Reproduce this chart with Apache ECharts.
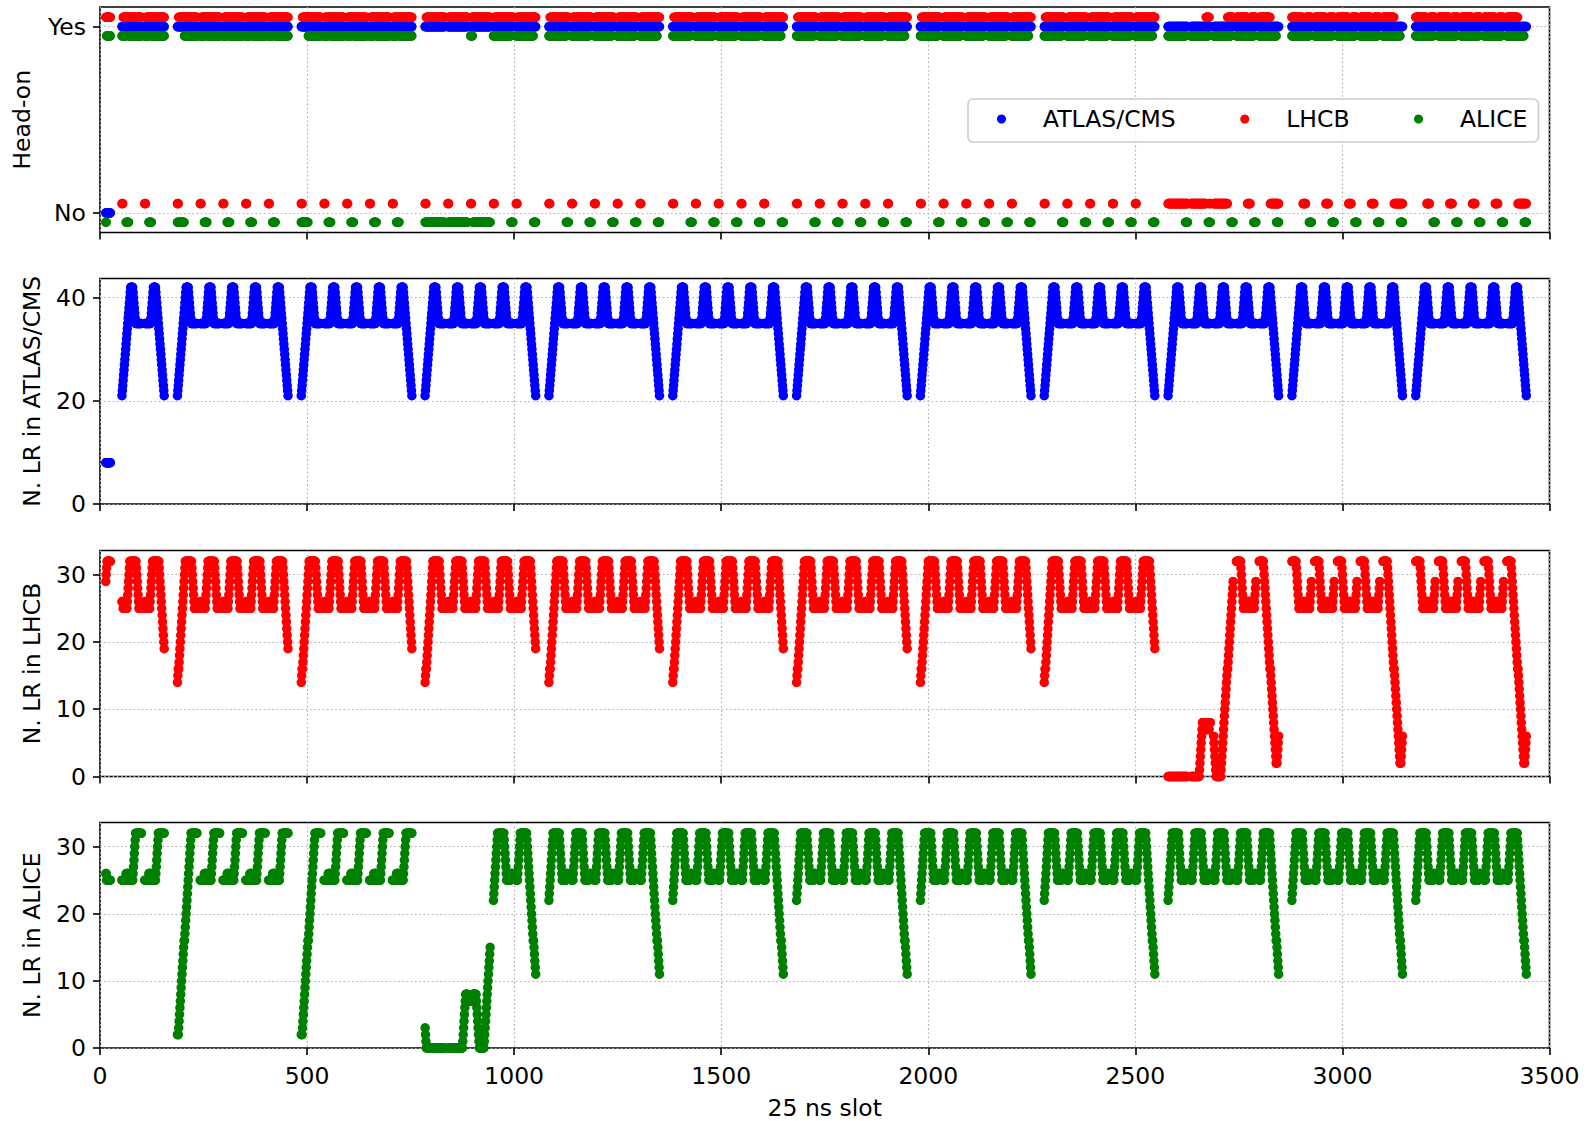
<!DOCTYPE html>
<html><head><meta charset="utf-8">
<script src="https://cdn.jsdelivr.net/npm/echarts@6/dist/echarts.min.js"></script>
<style>html,body{margin:0;padding:0;background:#fff}#c{width:1591px;height:1121px}</style>
</head><body><div id="c"></div>
<script>
// ---------------- DATA ----------------
// Beam-1 filled slots: start slot of each 48-bunch train (1 injection of 2 trains + 11 of 5 trains)
const trainStarts = [
  53, 108,
  187, 242, 297, 352, 407,
  486, 541, 596, 651, 706,
  785, 840, 895, 950, 1005,
  1084, 1139, 1194, 1249, 1304,
  1383, 1438, 1493, 1548, 1603,
  1682, 1737, 1792, 1847, 1902,
  1981, 2036, 2091, 2146, 2201,
  2280, 2335, 2390, 2445, 2500,
  2579, 2634, 2689, 2744, 2799,
  2878, 2933, 2988, 3043, 3098,
  3177, 3232, 3287, 3342, 3397
];
// the 12 isolated bunches at the start of the ring
const pilotSlots = [14, 15, 16, 17, 18, 19, 20, 21, 22, 23, 24, 25];

// Which shape each train shows in each panel (same order as trainStarts)
const atlasTrainShape = [
  'F','L',
  'F','M','M','M','L', 'F','M','M','M','L', 'F','M','M','M','L', 'F','M','M','M','L',
  'F','M','M','M','L', 'F','M','M','M','L', 'F','M','M','M','L', 'F','M','M','M','L',
  'F','M','M','M','L', 'F','M','M','M','L', 'F','M','M','M','L'
];
const lhcbTrainShape = [
  'M','L',
  'F','M','M','M','L', 'F','M','M','M','L', 'F','M','M','M','L', 'F','M','M','M','L',
  'F','M','M','M','L', 'F','M','M','M','L', 'F','M','M','M','L', 'F','M','M','M','L',
  'Z','S2','S3','Ms','Ls',
  'Ms','Ms','Ms','Ms','Ls',
  'Ms','Ms','Ms','Ms','Ls'
];
const aliceTrainShape = [
  'Ms','Ms',
  'Fs','Ms','Ms','Ms','Ms',
  'Fs','Ms','Ms','Ms','Ms',
  'S1','S2','S3','F','L',
  'F','M','M','M','L', 'F','M','M','M','L', 'F','M','M','M','L', 'F','M','M','M','L',
  'F','M','M','M','L', 'F','M','M','M','L', 'F','M','M','M','L', 'F','M','M','M','L'
];

// ---- N. LR in ATLAS/CMS, per bunch of a train ----
const atlasLR_F = [21,22,23,24,25,26,27,28,29,30,31,32,33,34,35,36,37,38,39,40,41,42,
  42,42,42,42,42, 41,40,39,38,37,36,35, 35,35,35,35,35,35,35, 35,35,35,35,35,35,35];
const atlasLR_M = [35,35,35,35,35, 35,35,35,35,35, 35,35,35,35,35, 36,37,38,39,40,41,
  42,42,42,42,42,42, 41,40,39,38,37,36,35, 35,35,35,35,35,35,35, 35,35,35,35,35,35,35];
const atlasLR_L = [35,35,35,35,35, 35,35,35,35,35, 35,35,35,35,35, 36,37,38,39,40,41,
  42,42,42,42,42,42, 41,40,39,38,37,36,35,34,33,32,31,30,29,28,27,26,25,24,23,22,21];
const atlasLR_pilot = [8,8,8,8,8,8,8,8,8,8,8,8];

// ---- N. LR in LHCB ----
const lhcbLR_F = [14,15,16, 16,17,18,19,20,21,22,23,24,25,26,27,28,29,30,31,32,
  32,32,32,32,32, 32,32,32,32,32, 32,32,32,32,32, 31,30,29,28,27,26,25, 25,25,25,25,25,25];
const lhcbLR_M = [26,26,26, 25,25,25,25,25, 25,25,25,25,25, 26,27,28,29,30,31,32,
  32,32,32,32,32, 32,32,32,32,32, 32,32,32,32,32, 31,30,29,28,27,26,25, 25,25,25,25,25,25];
const lhcbLR_L = [26,26,26, 25,25,25,25,25, 25,25,25,25,25, 26,27,28,29,30,31,32,
  32,32,32,32,32, 32,32,32,32,32, 32,32,32,32,32, 31,30,29,28,27,26,25,24,23,22,21,20,19];
const lhcbLR_Ms = [32,32,32,32,32, 32,32,32,32,32, 32, 31,30,29,28,27,26,25,
  25,25,25,25,25, 25,25,25,25, 26,26,26,26,26,26,26, 25,25,25,25,25, 25,25,25,25,25, 26,27,28,29];
const lhcbLR_Ls = [32,32,32,32,32, 32,32,32,32,32, 32, 31,30,29,28,27,26,25,24,23,22,21,20,19,18,17,16,
  16, 15,14,13,12,11,10,9,8,7,6,5,4,3,2, 2, 2,3,4,5,6];
const lhcbLR_Z = [0,0,0,0,0,0,0,0,0,0, 0,0,0,0,0,0,0,0,0,0, 0,0,0,0,0,0,0,0,0,0, 0,0,0,0,0,0,0,0,0,0, 0,0,0,0,0,0,0,0];
const lhcbLR_S2 = [0,0,0,0,0,0,0,0,0,0, 0,0,0,0,0,0,0,0,0,0, 0, 1,2,3,4,5,6,7,
  8,8,8,8,8,8,8,8,8, 7,7,7,7,7,7,7,7, 8,8,8];
const lhcbLR_S3 = [6,5,4,3,2,1, 0,0,0,0,0,0,0,0,0,0,0,0, 1,2,3,4,5,6,7,8,9,10,11,12,13,14,15,16,
  16,17,18,19,20,21,22,23,24,25,26,27,28,29];
const lhcbLR_pilot = [29,30,31,32,32,32,32,32,32,32,32,32];

// ---- N. LR in ALICE ----
const aliceLR_F = [22,23,24,25,26,27,28,29,30,31,32, 32,32,32,32,32, 32,32,32,32,32, 32,32,32,32,32,
  31,30,29,28,27,26,25, 25,25,25,25,25, 25,25,25,25, 26,26,26,26,26,26];
const aliceLR_M = [25,25,25,25, 26,27,28,29,30,31,32, 32,32,32,32,32, 32,32,32,32,32, 32,32,32,32,32,
  31,30,29,28,27,26,25, 25,25,25,25,25, 25,25,25,25, 26,26,26,26,26,26];
const aliceLR_L = [25,25,25,25, 26,27,28,29,30,31,32, 32,32,32,32,32, 32,32,32,32,32, 32,32,32,32,32,
  31,30,29,28,27,26,25,24,23,22,21,20,19,18,17,16, 16,15,14,13,12,11];
const aliceLR_Fs = [2,2,2,3,4,5,6,7,8,9,10,11,12,13,14,15,16, 16, 17,18,19,20,21,22,23,24,25,26,27,28,29,30,31,32,
  32,32,32,32,32,32,32, 32,32,32,32,32,32,32];
const aliceLR_Ms = [25,25,25,25,25, 25,25,25,25,25, 26,26,26,26,26,26,26, 25,25,25,25,25, 25,25,25,25,25,
  26,27,28,29,30,31,32, 32,32,32,32,32,32,32, 32,32,32,32,32,32,32];
const aliceLR_S1 = [3,2,1, 0,0,0,0,0,0,0,0,0,0, 0,0,0,0,0,0,0,0,0,0, 0,0,0,0,0,0,0,0,0,0,
  0,0,0,0,0,0,0,0,0,0, 0,0,0,0,0];
const aliceLR_S2 = [0,0,0,0,0,0,0,0,0,0, 0,0,0,0,0,0,0,0,0,0, 0,0,0,0,0,0,0,0,0,0, 0,0,0,0,0,0,
  1,2,3,4,5,6,7,8, 8,8,8,8];
const aliceLR_S3 = [7,7,7,7,7, 8,8,8,8,8,8,8,8,8, 7,6,5,4,3,2,1, 0,0,0,0,0,0,0,0,0,0,0,0,
  1,2,3,4,5,6,7,8,9,10,11,12,13,14,15];
const aliceLR_pilot = [26,26,25,25,25,25,25,25,25,25,25,25];

// ---- Head-on collision (1 = Yes, 0 = No), per bunch of a train ----
const atlasHO_train = [1,1,1,1,1,1,1,1,1,1, 1,1,1,1,1,1,1,1,1,1, 1,1,1,1,1,1,1,1,1,1, 1,1,1,1,1,1,1,1,1,1, 1,1,1,1,1,1,1,1];
const atlasHO_pilot = [0,0,0,0,0,0,0,0,0,0,0,0];

const lhcbHO_FML = [0,0,0, 1,1,1,1,1,1,1,1,1,1, 1,1,1,1,1,1,1,1,1,1, 1,1,1,1,1,1,1,1,1,1, 1,1,1,1,1,1,1,1,1,1, 1,1,1,1,1];
const lhcbHO_Ms = [1,1,1,1,1,1,1,1,1,1, 1,1,1,1,1,1,1,1,1,1, 1,1,1,1,1,1,1, 0,0,0,0,0,0,0,
  1,1,1,1,1,1,1, 1,1,1,1,1,1,1];
const lhcbHO_Ls = [1,1,1,1,1,1,1,1,1,1, 1,1,1,1,1,1,1,1,1,1, 1,1,1,1,1,1,1,
  0,0,0,0,0,0,0,0,0,0, 0,0,0,0,0,0,0,0,0,0, 0];
const lhcbHO_Z = [0,0,0,0,0,0,0,0,0,0, 0,0,0,0,0,0,0,0,0,0, 0,0,0,0,0,0,0,0,0,0, 0,0,0,0,0,0,0,0,0,0, 0,0,0,0,0,0,0,0];
const lhcbHO_S2 = [0,0,0,0,0,0,0,0,0,0, 0,0,0,0,0,0,0,0,0,0, 0,0,0,0,0,0,0,0,0,0, 0,0,0,0,0,0,0,
  1,1,1,1,1,1,1,1, 0,0,0];
const lhcbHO_S3 = [0,0,0,0,0,0,0,0,0,0, 0,0,0,0,0,0,0,0,0,0, 0,0,0,0,0,0,0,0,0,0, 0,0,0,0,
  1,1,1,1,1,1,1, 1,1,1,1,1,1,1];
const lhcbHO_pilot = [1,1,1,1,1,1,1,1,1,1,1,1];

const aliceHO_FML = [1,1,1,1,1,1,1,1,1,1, 1,1,1,1,1,1,1,1,1,1, 1,1,1,1,1,1,1,1,1,1, 1,1,1,1,1,1,1,1,1,1, 1,1, 0,0,0,0,0,0];
const aliceHO_Fs = [0,0,0,0,0,0,0,0,0,0, 0,0,0,0,0,0,0, 1,1,1,1,1,1,1,1,1,1, 1,1,1,1,1,1,1,1,1,1,
  1,1,1,1,1,1,1,1,1,1, 1];
const aliceHO_Ms = [1,1,1,1,1,1,1,1,1,1, 0,0,0,0,0,0,0, 1,1,1,1,1,1,1,1,1,1, 1,1,1,1,1,1,1,1,1,1,
  1,1,1,1,1,1,1,1,1,1, 1];
const aliceHO_S12 = [0,0,0,0,0,0,0,0,0,0, 0,0,0,0,0,0,0,0,0,0, 0,0,0,0,0,0,0,0,0,0, 0,0,0,0,0,0,0,0,0,0, 0,0,0,0,0,0,0,0];
const aliceHO_S3 = [1,1,1,1,1, 0,0,0,0,0,0,0,0,0,0, 0,0,0,0,0,0,0,0,0,0, 0,0,0,0,0,0,0,0,0,0,
  0,0,0,0,0,0,0,0,0,0, 0,0,0];
const aliceHO_pilot = [0,0,1,1,1,1,1,1,1,1,1,1];

// tick values shown on the axes
const xTickStep = 500;
const headOnTicks = [0, 1];
const headOnTickLabels = ['No', 'Yes'];
const atlasTicks = [0, 20, 40];
const lhcbTicks = [0, 10, 20, 30];
const aliceTicks = [0, 10, 20, 30];

// ---------------- BUILD ----------------
const atlasLR = {F: atlasLR_F, M: atlasLR_M, L: atlasLR_L};
const lhcbLR = {F: lhcbLR_F, M: lhcbLR_M, L: lhcbLR_L, Ms: lhcbLR_Ms, Ls: lhcbLR_Ls, Z: lhcbLR_Z, S2: lhcbLR_S2, S3: lhcbLR_S3};
const aliceLR = {F: aliceLR_F, M: aliceLR_M, L: aliceLR_L, Fs: aliceLR_Fs, Ms: aliceLR_Ms, S1: aliceLR_S1, S2: aliceLR_S2, S3: aliceLR_S3};
const atlasHO = {F: atlasHO_train, M: atlasHO_train, L: atlasHO_train};
const lhcbHO = {F: lhcbHO_FML, M: lhcbHO_FML, L: lhcbHO_FML, Ms: lhcbHO_Ms, Ls: lhcbHO_Ls, Z: lhcbHO_Z, S2: lhcbHO_S2, S3: lhcbHO_S3};
const aliceHO = {F: aliceHO_FML, M: aliceHO_FML, L: aliceHO_FML, Fs: aliceHO_Fs, Ms: aliceHO_Ms, S1: aliceHO_S12, S2: aliceHO_S12, S3: aliceHO_S3};

// sanity check of the typed tables
[['atlasLR', atlasLR], ['lhcbLR', lhcbLR], ['aliceLR', aliceLR], ['atlasHO', atlasHO], ['lhcbHO', lhcbHO], ['aliceHO', aliceHO]].forEach(function (e) {
  Object.keys(e[1]).forEach(function (k) { if (e[1][k].length !== 48) throw new Error('bad length ' + e[0] + '.' + k + ' ' + e[1][k].length); });
});
[atlasLR_pilot, lhcbLR_pilot, aliceLR_pilot, atlasHO_pilot, lhcbHO_pilot, aliceHO_pilot].forEach(function (a, i) {
  if (a.length !== pilotSlots.length) throw new Error('bad pilot ' + i);
});
[atlasTrainShape, lhcbTrainShape, aliceTrainShape].forEach(function (a, i) {
  if (a.length !== trainStarts.length) throw new Error('bad shape list ' + i + ' ' + a.length);
});

function points(shapeList, table, pilotValues, shift) {
  const pts = pilotSlots.map(function (s, i) { return [s, pilotValues[i] + shift]; });
  trainStarts.forEach(function (start, t) {
    table[shapeList[t]].forEach(function (v, p) { pts.push([start + p, v + shift]); });
  });
  return pts;
}

const FONT = 'DejaVu Sans';
const FS = 23.5;
const BLUE = '#0000ff', RED = '#ff0000', GREEN = '#008000';
const ROW_OFFSET = 0.05; // vertical offset used in the head-on panel

const tops = [7, 278.5, 550.5, 822.5];
const heights = [225.5, 225.5, 226, 225.5];
const grids = tops.map(function (t, i) {
  return { left: 100, top: t, width: 1449.5, height: heights[i], show: true, borderColor: '#000', borderWidth: 1.6, backgroundColor: 'transparent', containLabel: false };
});

const gridLine = { show: true, lineStyle: { color: '#b0b0b0', width: 1.2, type: [1.6, 2.6] } };
const tick = { show: true, inside: false, length: 7, lineStyle: { color: '#000', width: 1.6 } };

const xAxes = [0, 1, 2, 3].map(function (i) {
  return {
    type: 'value', gridIndex: i, min: 0, max: 3500, interval: xTickStep,
    axisLine: { show: false, onZero: false }, axisTick: tick,
    axisLabel: { show: i === 3, fontSize: FS, color: '#000', fontFamily: FONT, margin: 16,
      formatter: function (v) { return String(v); } },
    splitLine: gridLine,
    name: i === 3 ? '25 ns slot' : '', nameLocation: 'middle', nameGap: 48,
    nameTextStyle: { fontSize: FS, color: '#000', fontFamily: FONT }
  };
});

const yDefs = [
  { min: -0.105, max: 1.105, ticks: headOnTicks, name: 'Head-on', gap: 66,
    fmt: function (v) { const k = headOnTicks.indexOf(v); return k >= 0 ? headOnTickLabels[k] : ''; } },
  { min: 0, max: 43.7, ticks: atlasTicks, name: 'N. LR in ATLAS/CMS', gap: 56, fmt: function (v) { return String(v); } },
  { min: 0, max: 33.6, ticks: lhcbTicks, name: 'N. LR in LHCB', gap: 56, fmt: function (v) { return String(v); } },
  { min: 0, max: 33.6, ticks: aliceTicks, name: 'N. LR in ALICE', gap: 56, fmt: function (v) { return String(v); } }
];
const yAxes = yDefs.map(function (d, i) {
  return {
    type: 'value', gridIndex: i, min: d.min, max: d.max,
    axisLine: { show: false, onZero: false },
    axisTick: Object.assign({}, tick, { customValues: d.ticks }),
    axisLabel: { fontSize: FS, color: '#000', fontFamily: FONT, margin: 14, customValues: d.ticks, formatter: d.fmt },
    splitLine: gridLine,
    name: d.name, nameLocation: 'middle', nameGap: d.gap,
    nameTextStyle: { fontSize: FS, color: '#000', fontFamily: FONT }
  };
});

function scatter(name, idx, data, color) {
  return {
    type: 'scatter', name: name, xAxisIndex: idx, yAxisIndex: idx, data: data,
    symbol: 'circle', symbolSize: 9.5, itemStyle: { color: color, opacity: 1 },
    progressive: 0, large: false, silent: true, animation: false, emphasis: { disabled: true }
  };
}

const series = [
  scatter('ATLAS/CMS', 0, points(atlasTrainShape, atlasHO, atlasHO_pilot, 0), BLUE),
  scatter('LHCB', 0, points(lhcbTrainShape, lhcbHO, lhcbHO_pilot, ROW_OFFSET), RED),
  scatter('ALICE', 0, points(aliceTrainShape, aliceHO, aliceHO_pilot, -ROW_OFFSET), GREEN),
  scatter('LR ATLAS/CMS', 1, points(atlasTrainShape, atlasLR, atlasLR_pilot, 0), BLUE),
  scatter('LR LHCB', 2, points(lhcbTrainShape, lhcbLR, lhcbLR_pilot, 0), RED),
  scatter('LR ALICE', 3, points(aliceTrainShape, aliceLR, aliceLR_pilot, 0), GREEN)
];

const chart = echarts.init(document.getElementById('c'), null, { renderer: 'svg', width: 1591, height: 1121 });
chart.setOption({
  animation: false,
  backgroundColor: '#fff',
  textStyle: { fontFamily: FONT },
  grid: grids,
  xAxis: xAxes,
  yAxis: yAxes,
  legend: {
    data: ['ATLAS/CMS', 'LHCB', 'ALICE'],
    left: 968, top: 99,
    icon: 'circle', itemWidth: 33, itemHeight: 9, itemGap: 64.5,
    padding: [8, 11, 11, 29],
    borderColor: '#cccccc', borderWidth: 1.6, borderRadius: 5,
    backgroundColor: 'rgba(255,255,255,0.8)',
    selectedMode: false,
    textStyle: { fontSize: FS, color: '#000', fontFamily: FONT, padding: [0, 0, 0, 20] }
  },
  series: series
});
</script></body></html>
